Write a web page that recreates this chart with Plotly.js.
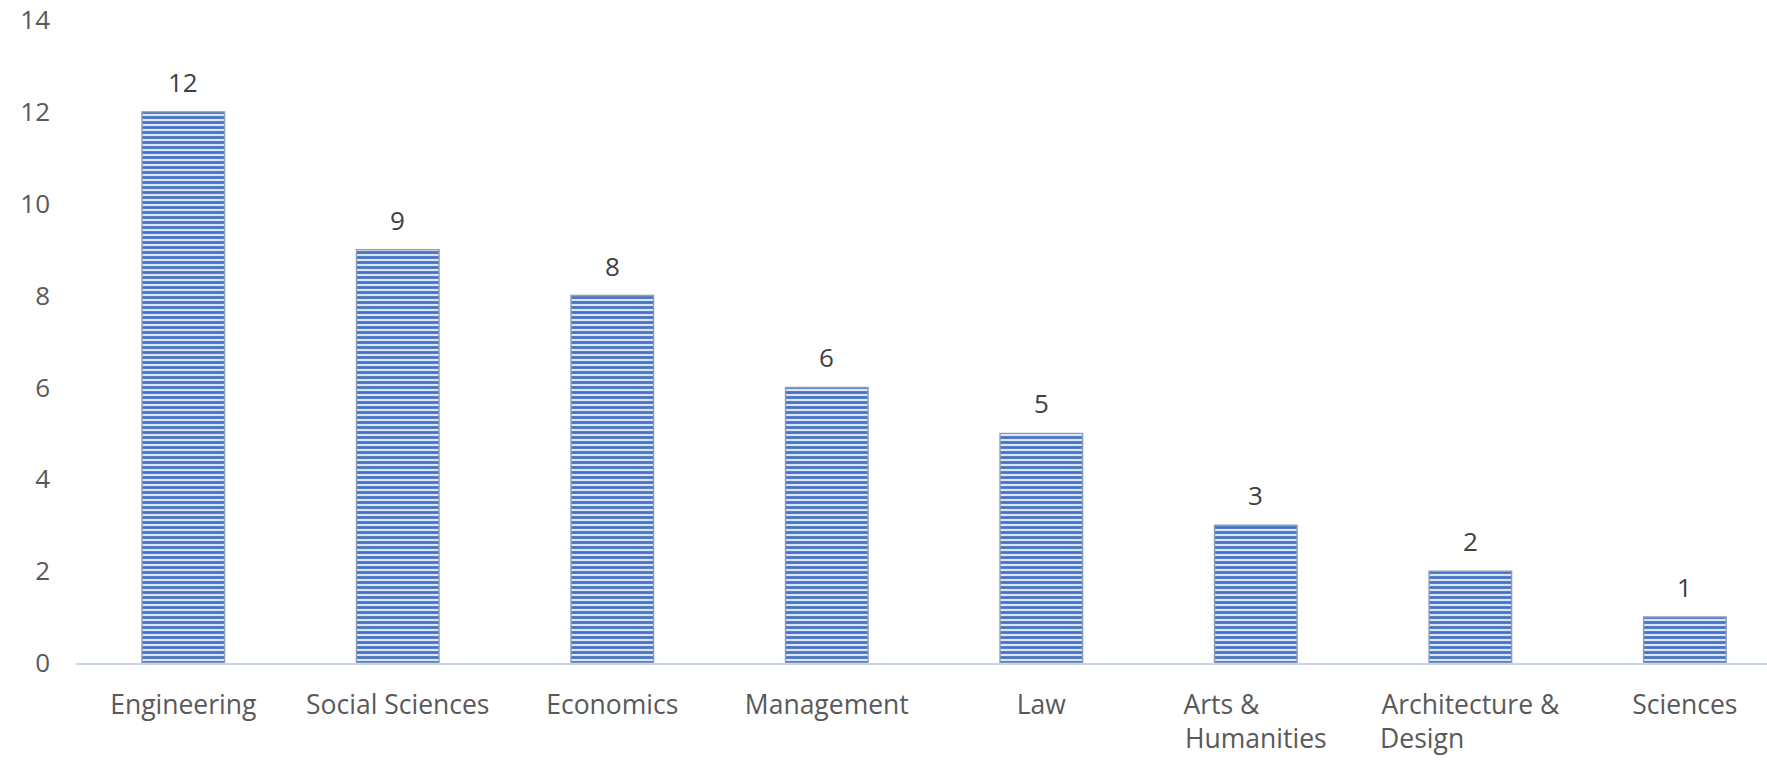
<!DOCTYPE html>
<html>
<head>
<meta charset="utf-8">
<script src="https://cdn.plot.ly/plotly-3.0.1.min.js"></script>
<style>
  html, body { margin: 0; padding: 0; background: #ffffff; }
  #chart { width: 1767px; height: 761px; }
</style>
</head>
<body>
<div id="chart"></div>
<script>
// ---- data ----
const categories = ["Engineering", "Social Sciences", "Economics", "Management", "Law",
                    "Arts & Humanities", "Architecture & Design", "Sciences"];
const values = [12, 9, 8, 6, 5, 3, 2, 1];
const NB = "\u00A0";
const tickLabels = ["Engineering", "Social Sciences", "Economics", "Management", "Law",
                    "Arts &" + NB.repeat(10) + "<br>Humanities",
                    "Architecture &<br>Design" + NB.repeat(14), "Sciences"];
const yTicks = [0, 2, 4, 6, 8, 10, 12, 14];

const FONT = "'Open Sans', 'Noto Sans', sans-serif";

const trace = {
  type: "bar",
  x: categories,
  y: values,
  width: 0.385,
  marker: {
    color: "#4472C4",
    line: { color: "#8e9cb8", width: 1.4 },
    pattern: {
      shape: "-",
      fgcolor: "#4472C4",
      bgcolor: "#dde5f3",
      size: 5,
      solidity: 0.55,
      fillmode: "replace"
    }
  },
  hoverinfo: "x+y"
};

const annotations = categories.map((c, i) => ({
  x: c,
  y: values[i],
  xref: "x",
  yref: "y",
  text: String(values[i]),
  showarrow: false,
  yanchor: "middle",
  yshift: 30,
  font: { family: FONT, size: 26, color: "#404040" }
}));

const layout = {
  width: 1767,
  height: 761,
  margin: { l: 76, r: 0, t: 20, b: 98 },
  paper_bgcolor: "#ffffff",
  plot_bgcolor: "#ffffff",
  showlegend: false,
  font: { family: FONT, size: 26, color: "#595959" },
  xaxis: {
    type: "category",
    range: [-0.5, 7.383],
    showline: true,
    linecolor: "#c8d4ec",
    linewidth: 2,
    ticks: "",
    showgrid: false,
    zeroline: false,
    tickmode: "array",
    tickvals: categories,
    ticktext: tickLabels,
    ticklabelstandoff: 17,
    tickfont: { family: FONT, size: 26.5, color: "#595959" },
    fixedrange: true
  },
  yaxis: {
    range: [0, 14],
    tickmode: "array",
    tickvals: yTicks,
    ticktext: yTicks.map(String),
    showgrid: false,
    zeroline: false,
    showline: false,
    ticks: "",
    ticklabelstandoff: 25,
    tickfont: { family: FONT, size: 26, color: "#595959" },
    fixedrange: true
  },
  annotations: annotations
};

Plotly.newPlot("chart", [trace], layout, { displayModeBar: false, staticPlot: true });
</script>
</body>
</html>
